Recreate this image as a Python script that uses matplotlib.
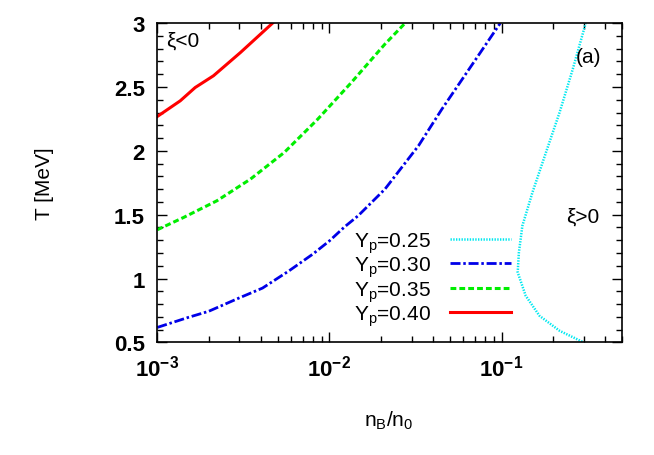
import math
import matplotlib
matplotlib.use("Agg")
import matplotlib.pyplot as plt
from matplotlib.ticker import FixedLocator, FuncFormatter, MultipleLocator, LogLocator, NullFormatter

plt.rcParams['font.family'] = ['Liberation Sans', 'DejaVu Sans']
plt.rcParams['mathtext.fontset'] = 'custom'
plt.rcParams['mathtext.rm'] = 'Liberation Sans'
plt.rcParams['mathtext.it'] = 'Liberation Sans:italic'
plt.rcParams['mathtext.bf'] = 'Liberation Sans:bold'

# Yp = 0.40 (solid red)
nb_40 = [1.0e-3, 1.36e-3, 1.66e-3, 2.12e-3, 3.04e-3, 4.67e-3]
t_40 = [2.269, 2.392, 2.496, 2.588, 2.770, 3.0]
# Yp = 0.35 (dashed green)
nb_35 = [1.0e-3, 1.42e-3, 2.22e-3, 3.48e-3, 5.46e-3, 8.55e-3, 0.0134, 0.0210, 0.0275]
t_35 = [1.382, 1.478, 1.609, 1.779, 1.987, 2.248, 2.535, 2.836, 3.0]
# Yp = 0.30 (dash-dot blue)
nb_30 = [1.0e-3, 1.517e-3, 1.986e-3, 2.979e-3, 4.083e-3, 5.834e-3, 8.0e-3, 0.0100,
         0.01225, 0.01466, 0.0210, 0.0329, 0.0450, 0.0702, 0.0982]
t_30 = [0.617, 0.696, 0.743, 0.847, 0.925, 1.061, 1.191, 1.295,
        1.405, 1.491, 1.700, 2.040, 2.327, 2.71, 3.0]
# Yp = 0.25 (dotted cyan)
nb_25 = [0.294, 0.217, 0.166, 0.138, 0.124, 0.126, 0.132, 0.151, 0.181, 0.217, 0.259, 0.308]
t_25 = [0.505, 0.591, 0.708, 0.865, 1.048, 1.205, 1.413, 1.674, 1.988, 2.30, 2.64, 3.0]

labels = ['Y$_\\mathrm{p}$=0.25', 'Y$_\\mathrm{p}$=0.30', 'Y$_\\mathrm{p}$=0.35', 'Y$_\\mathrm{p}$=0.40']

fig = plt.figure(figsize=(6.54, 4.56), dpi=100, facecolor='white')
ax = fig.add_axes([0.2405, 0.247, 0.7105, 0.700])

ax.plot(nb_25, t_25, color='#00e8f0', lw=1.8, linestyle=(0, (0.55, 0.55)), label=labels[0])
ax.plot(nb_30, t_30, color='#0000e8', lw=2.0, linestyle=(0, (3.6, 1.0, 0.9, 1.0)), label=labels[1])
ax.plot(nb_35, t_35, color='#00ee00', lw=2.2, linestyle=(0, (1.9, 1.0)), label=labels[2])
ax.plot(nb_40, t_40, color='#ff0000', lw=2.2, linestyle='-', label=labels[3])

ax.set_xscale('log')
ax.set_xlim(1e-3, 0.5)
ax.set_ylim(0.5, 3)

ax.xaxis.set_major_locator(FixedLocator([1e-3, 1e-2, 1e-1]))
ax.xaxis.set_minor_locator(LogLocator(base=10, subs=range(2, 10)))
ax.xaxis.set_minor_formatter(NullFormatter())
ax.xaxis.set_major_formatter(FuncFormatter(
    lambda v, p: r'$\mathbf{10^{%d}}$' % round(math.log10(v))))
ax.yaxis.set_major_locator(MultipleLocator(0.5))
ax.yaxis.set_minor_locator(MultipleLocator(0.1))
ax.yaxis.set_major_formatter(FuncFormatter(lambda v, p: ('%g' % v)))

ax.tick_params(which='both', direction='in', top=True, right=True, width=1)
ax.tick_params(which='major', length=7, labelsize=16)
ax.tick_params(axis='y', which='major', pad=9)
ax.tick_params(axis='x', which='major', pad=9)
ax.tick_params(which='minor', length=4)
for lab in ax.get_yticklabels():
    lab.set_fontweight('bold')
for s in ax.spines.values():
    s.set_linewidth(1.2)

# axis titles
fig.text(389 / 654, 1 - 421 / 456, 'n$_\\mathrm{B}$/n$_\\mathrm{0}$', fontsize=15,
         ha='center', va='center')
fig.text(45 / 654, 1 - 184 / 456, 'T [MeV]', fontsize=15, rotation=90,
         ha='center', va='center')

ax.text(0.020, 0.947, '\u03be<0', transform=ax.transAxes, fontsize=15, va='center')
ax.text(0.927, 0.897, '(a)', transform=ax.transAxes, fontsize=15, va='center', ha='center')
ax.text(0.916, 0.396, '\u03be>0', transform=ax.transAxes, fontsize=15, va='center', ha='center')

ax.legend(loc='lower right', bbox_to_anchor=(0.761, 0.045), frameon=False, fontsize=15,
          markerfirst=False, handlelength=2.9, labelspacing=0.0, handletextpad=0.95,
          borderaxespad=0, borderpad=0)

fig.savefig('out.png', dpi=100)
